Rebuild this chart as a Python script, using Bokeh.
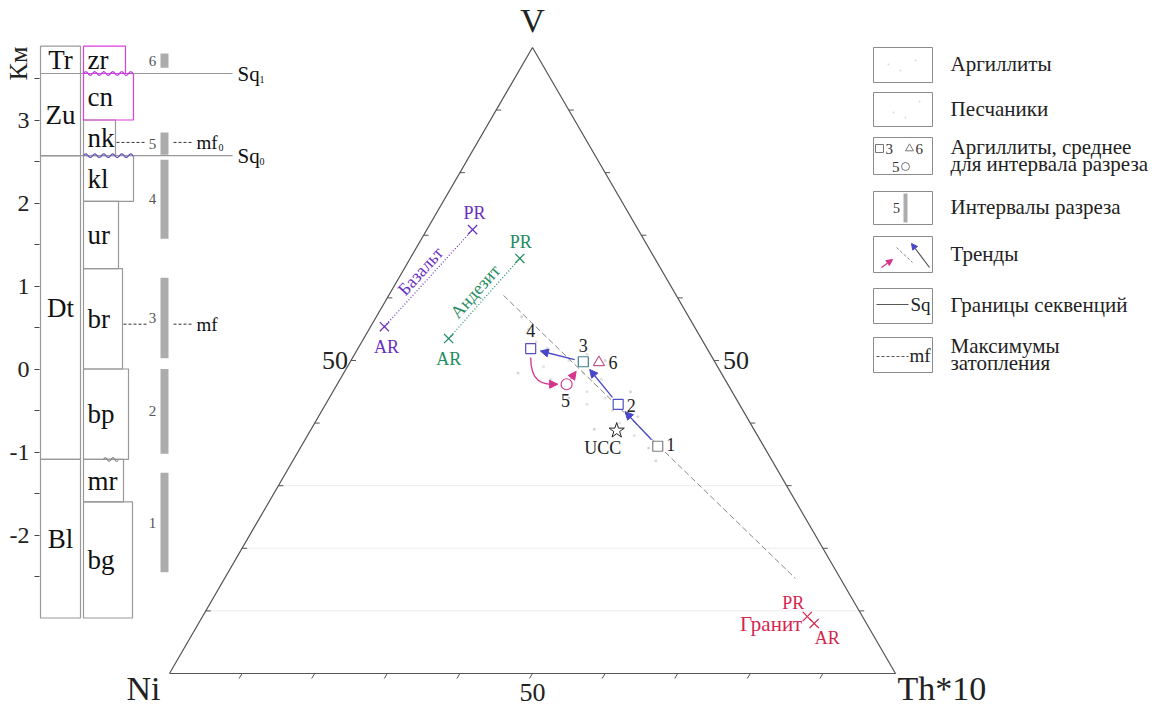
import numpy as np
from bokeh.plotting import figure
from bokeh.models import Range1d, LinearAxis, FixedTicker, Arrow, NormalHead, CustomJSTickFormatter
from bokeh.core.properties import value
from bokeh.embed import file_html
from bokeh.resources import INLINE

FONT = "Liberation Serif"
F = value(FONT)

# ---------------- ternary data: V - Ni - Th*10 (percent) ----------------
sample_ids = ["1", "2", "3", "4", "5", "6"]
sample_V = [36.3, 43.0, 49.8, 51.9, 46.2, 49.7]
sample_Th = [49.1, 40.3, 32.1, 23.8, 31.6, 34.3]
sample_Ni = [14.6, 16.7, 18.1, 24.3, 22.2, 16.0]
sample_marker = ["square", "square", "square", "square", "circle", "triangle"]
sample_color = ["#808080", "#5252c6", "#3f8090", "#5650b8", "#d23c96", "#c4578f"]

ucc_V, ucc_Th, ucc_Ni = [38.8], [42.2], [19.0]

ref_rock = ["Базальт", "Базальт", "Андезит", "Андезит", "Гранит", "Гранит"]
ref_age = ["AR", "PR", "AR", "PR", "PR", "AR"]
ref_V = [55.4, 70.9, 53.5, 66.3, 9.1, 8.0]
ref_Th = [1.9, 6.3, 11.7, 15.1, 83.3, 84.8]
ref_Ni = [42.7, 22.8, 34.8, 18.6, 7.6, 7.2]
rock_color = {"Базальт": "#6a2fbf", "Андезит": "#1f8c62", "Гранит": "#d4264f"}

mix_V = [60.4, 15.2]
mix_Th = [15.8, 78.6]
mix_Ni = [23.8, 6.2]

trend_blue = [("1", "2"), ("2", "3"), ("3", "4")]
trend_magenta = [("5", "3")]
trend_magenta_curve = [("4", "5")]

argillite_V = [52, 50, 48, 47, 45, 44, 42, 40, 49, 46, 51, 43, 38, 53, 47]
argillite_Th = [26, 30, 33, 29, 35, 38, 40, 42, 27, 31, 32, 36, 45, 24, 36]
argillite_Ni = [22, 20, 19, 24, 20, 18, 18, 18, 24, 23, 17, 21, 17, 23, 17]
sandstone_V = [55, 41, 36, 50, 44, 39, 57, 34, 48, 45]
sandstone_Th = [22, 44, 48, 35, 33, 39, 20, 50, 24, 41]
sandstone_Ni = [23, 15, 16, 15, 23, 22, 23, 16, 28, 14]

# ---------------- stratigraphic column (km) ----------------
km_ticks = [-2, -1, 0, 1, 2, 3]
km_minor = [-2.5, -1.5, -0.5, 0.5, 1.5, 2.5, 3.5]
formations = ["Tr", "Zu", "Dt", "Bl"]
formation_top = [3.89, 3.56, 2.57, -1.09]
formation_base = [3.56, 2.57, -1.09, -3.00]
members = ["zr", "cn", "nk", "kl", "ur", "br", "bp", "mr", "bg"]
member_top = [3.89, 3.56, 3.00, 2.57, 2.02, 1.21, 0.00, -1.09, -1.60]
member_base = [3.56, 3.00, 2.57, 2.02, 1.21, 0.00, -1.09, -1.60, -3.00]
intervals = ["1", "2", "3", "4", "5", "6"]
interval_top = [-1.25, 0.00, 1.10, 2.52, 2.85, 3.80]
interval_base = [-2.45, -1.02, 0.13, 1.57, 2.58, 3.63]
sequence_sub = ["1", "0"]
sequence_level = [3.56, 2.57]
flood_sub = ["0", ""]
flood_level = [2.73, 0.54]

legend_labels = [["Аргиллиты"], ["Песчаники"], ["Аргиллиты, среднее", "для интервала разреза"],
                 ["Интервалы разреза"], ["Тренды"], ["Границы секвенций"], ["Максимумы", "затопления"]]

# ---------------- layout constants ----------------
W, H = 1150, 706
SX, SY = 7.26, 7.229          # px per ternary unit
X0, Y0 = 169, 673             # pixel position of the Ni corner
KM0, KMS = 368.5, 83.0        # pixel of 0 km, px per km
member_right = [125, 133, 115, 133, 118, 122, 128, 123, 132]
member_edge = ["#e03ce0", "#e03ce0", "#999999", "#999999", "#999999", "#999999", "#999999", "#999999", "#999999"]


def tern(V, Th, Ni):
    V = np.asarray(V, float); Th = np.asarray(Th, float); Ni = np.asarray(Ni, float)
    t = V + Th + Ni
    return 100 * Th / t + 50 * V / t, 86.6025 * V / t


def shift(x, y, dx, dy):
    return np.asarray(x) + dx / SX, np.asarray(y) - dy / SY


p = figure(width=W, height=H,
           x_range=Range1d(-X0 / SX, (W - X0) / SX), y_range=Range1d((Y0 - H) / SY, Y0 / SY),
           output_backend="svg", toolbar_location=None, x_axis_location=None, y_axis_location=None,
           min_border_left=0, min_border_right=0, min_border_top=0, min_border_bottom=0)
p.extra_x_ranges = {"px": Range1d(0, W)}
p.extra_y_ranges = {"km": Range1d((KM0 - H) / KMS, KM0 / KMS), "py": Range1d(H, 0)}
p.outline_line_color = None
p.grid.visible = False
p.background_fill_color = "white"
p.border_fill_color = "white"

ax = LinearAxis(x_range_name="px", y_range_name="km", fixed_location=39,
                ticker=FixedTicker(ticks=km_ticks, minor_ticks=km_minor),
                formatter=CustomJSTickFormatter(code="return tick.toString();"))
ax.axis_line_color = None
ax.major_tick_line_color = "#444444"
ax.minor_tick_line_color = "#444444"
ax.major_tick_out = 5
ax.major_tick_in = 0
ax.minor_tick_out = 5
ax.minor_tick_in = 0
ax.major_label_standoff = 5
ax.major_label_text_font = FONT
ax.major_label_text_font_size = "24px"
ax.major_label_text_color = "#222222"
p.add_layout(ax, "left")

p.text(x=[18], y=[63], text=["Км"], angle=np.pi / 2, text_align="center", text_baseline="middle",
       text_font=F, text_font_size="26px", text_color="#222222", x_range_name="px", y_range_name="py")

# ---- column ----
KW = dict(x_range_name="px", y_range_name="km")
p.quad(left=40, right=80, top=formation_top, bottom=formation_base, fill_color=None,
       line_color="#999999", line_width=1.2, **KW)
p.text(x=60, y=[(a + b) / 2 for a, b in zip(formation_top, formation_base)], text=formations,
       text_font=F, text_font_size="27px", text_align="center", text_baseline="middle", text_color="#111", **KW)
order = [2, 3, 4, 5, 6, 7, 8, 0, 1]
for i in order:
    p.quad(left=83, right=member_right[i], top=member_top[i], bottom=member_base[i], fill_color=None,
           line_color=member_edge[i], line_width=1.2, **KW)
p.text(x=87, y=[(a + b) / 2 for a, b in zip(member_top, member_base)], text=members,
       text_font=F, text_font_size="27px", text_align="left", text_baseline="middle", text_color="#111", **KW)

wx = np.linspace(83, 133, 80)
p.line(wx, sequence_level[0] + 0.022 * np.sin(2 * np.pi * (wx - 83) / 9.0), line_color="#b040d8", line_width=1.2, **KW)
p.line(wx, sequence_level[1] + 0.022 * np.sin(2 * np.pi * (wx - 83) / 9.0), line_color="#6050c0", line_width=1.2, **KW)
wx2 = np.linspace(103, 118, 30)
p.line(wx2, member_base[6] + 0.022 * np.sin(2 * np.pi * (wx2 - 103) / 7.5), line_color="#888888", line_width=1.1, **KW)

for lev, sub in zip(sequence_level, sequence_sub):
    p.segment(x0=[40, 133], x1=[83, 232], y0=[lev, lev], y1=[lev, lev], line_color="#999999", line_width=1.2, **KW)
    p.text(x=237, y=lev, text=["Sq"], text_font=F, text_font_size="21px", text_baseline="middle",
           text_color="#111", **KW)
    p.text(x=259, y=lev - 0.07, text=[sub], text_font=F, text_font_size="10px", text_baseline="middle",
           text_color="#111", **KW)

p.quad(left=160, right=168, top=interval_top, bottom=interval_base, fill_color="#acacac", line_color=None, **KW)
p.text(x=152, y=[(a + b) / 2 for a, b in zip(interval_top, interval_base)], text=intervals,
       text_font=F, text_font_size="15px", text_align="center", text_baseline="middle", text_color="#555", **KW)

flood_start = [member_right[2], member_right[5]]
for lev, sub, xs in zip(flood_level, flood_sub, flood_start):
    p.segment(x0=[xs + 1, 173], x1=[146, 192], y0=[lev, lev], y1=[lev, lev], line_color="#333333",
              line_width=1, line_dash="3 2", **KW)
    p.text(x=196, y=lev, text=["mf"], text_font=F, text_font_size="19px", text_baseline="middle",
           text_color="#111", **KW)
    p.text(x=218, y=lev - 0.06, text=[sub], text_font=F, text_font_size="10px", text_baseline="middle",
           text_color="#111", **KW)

# ---- ternary frame ----
cx, cy = tern([0, 0, 100, 0], [0, 100, 0, 0], [100, 0, 0, 100])
for gv in [10, 20, 30]:
    gx, gy = tern([gv, gv], [0, 100 - gv], [100 - gv, 0])
    p.line(gx, gy, line_color="#ececec", line_width=1)
p.line(cx, cy, line_color="#555555", line_width=1.2)
k = np.arange(10, 100, 10)
bx, by = tern(np.zeros_like(k), k, 100 - k)
bx1, by1 = shift(bx, by, -3, 5)
lx, ly = tern(k, np.zeros_like(k), 100 - k)
lx1, ly1 = shift(lx, ly, 5, 0)
rx, ry = tern(k, 100 - k, np.zeros_like(k))
rx1, ry1 = shift(rx, ry, 5, 0)
p.segment(x0=np.r_[bx, lx, rx], y0=np.r_[by, ly, ry], x1=np.r_[bx1, lx1, rx1], y1=np.r_[by1, ly1, ry1],
          line_color="#555555", line_width=1)

mx, my = tern([0], [50], [50])
t50x, t50y = shift(mx, my, 0, 19)
p.text(x=t50x, y=t50y, text=["50"], text_font=F, text_font_size="26px", text_align="center",
       text_baseline="middle", text_color="#222")
mx, my = tern([50], [0], [50])
t50x, t50y = shift(mx, my, -3, 0)
p.text(x=t50x, y=t50y, text=["50"], text_font=F, text_font_size="26px", text_align="right",
       text_baseline="middle", text_color="#222")
mx, my = tern([50], [50], [0])
t50x, t50y = shift(mx, my, 9, 0)
p.text(x=t50x, y=t50y, text=["50"], text_font=F, text_font_size="26px", text_align="left",
       text_baseline="middle", text_color="#222")

vx, vy = shift(cx[2], cy[2], 0, -27)
p.text(x=[vx], y=[vy], text=["V"], text_font=F, text_font_size="34px", text_align="center",
       text_baseline="middle", text_color="#222")
nx, ny = shift(cx[0], cy[0], -26, 15)
p.text(x=[nx], y=[ny], text=["Ni"], text_font=F, text_font_size="34px", text_align="center",
       text_baseline="middle", text_color="#222")
tx, ty = shift(cx[1], cy[1], 2, 15)
p.text(x=[tx], y=[ty], text=["Th*10"], text_font=F, text_font_size="34px", text_align="left",
       text_baseline="middle", text_color="#222")

ax_, ay_ = tern(argillite_V, argillite_Th, argillite_Ni)
p.scatter(ax_, ay_, marker="circle", size=3, fill_color="#e2e2e2", line_color=None)
sx_, sy_ = tern(sandstone_V, sandstone_Th, sandstone_Ni)
p.scatter(sx_, sy_, marker="circle", size=3, fill_color="#d6d6d6", line_color=None)

mxl, myl = tern(mix_V, mix_Th, mix_Ni)
p.line(mxl, myl, line_color="#888888", line_width=1, line_dash="6 3")

rx_, ry_ = tern(ref_V, ref_Th, ref_Ni)
rcol = [rock_color[r] for r in ref_rock]
for a, b, c in [(0, 1, rock_color["Базальт"]), (2, 3, rock_color["Андезит"])]:
    p.line([rx_[a], rx_[b]], [ry_[a], ry_[b]], line_color=c, line_width=1.2, line_dash="1 2")
p.scatter(rx_, ry_, marker="x", size=13, line_color=rcol, line_width=1.2)
age_off = [(2, 20), (2, -17), (0, 20), (1, -16), (-14, -14), (13, 15)]
for i in range(len(ref_age)):
    lx_, ly_ = shift(rx_[i], ry_[i], *age_off[i])
    p.text(x=[lx_], y=[ly_], text=[ref_age[i]], text_font=F, text_font_size="18px", text_align="center",
           text_baseline="middle", text_color=rcol[i])
for a, b, name, off in [(0, 1, "Базальт", (-8, -7)), (2, 3, "Андезит", (-9, -7))]:
    ang = np.arctan2((ry_[b] - ry_[a]) * SY, (rx_[b] - rx_[a]) * SX)
    mx_, my_ = shift((rx_[a] + rx_[b]) / 2, (ry_[a] + ry_[b]) / 2, *off)
    p.text(x=[mx_], y=[my_], text=[name], angle=ang, text_font=F, text_font_size="18px",
           text_align="center", text_baseline="middle", text_color=rock_color[name])
gx_, gy_ = shift(rx_[4], ry_[4], -5, 7)
p.text(x=[gx_], y=[gy_], text=["Гранит"], text_font=F, text_font_size="21px", text_align="right",
       text_baseline="middle", text_color=rock_color["Гранит"])

sx, sy = tern(sample_V, sample_Th, sample_Ni)
pos = {s: (sx[i], sy[i]) for i, s in enumerate(sample_ids)}


def trimmed(a, b, s0, s1):
    ax0, ay0 = pos[a]; bx0, by0 = pos[b]
    dxp, dyp = (bx0 - ax0) * SX, (by0 - ay0) * SY
    L = np.hypot(dxp, dyp)
    ux, uy = dxp / L, dyp / L
    return (ax0 + ux * s0 / SX, ay0 + uy * s0 / SY, bx0 - ux * s1 / SX, by0 - uy * s1 / SY)


BLUE, MAG = "#4848c8", "#d6338c"
for a, b in trend_blue:
    x0, y0, x1, y1 = trimmed(a, b, 9, 10)
    p.add_layout(Arrow(end=NormalHead(size=8, fill_color=BLUE, line_color=BLUE), x_start=x0, y_start=y0,
                       x_end=x1, y_end=y1, line_color=BLUE, line_width=1.3))
for a, b in trend_magenta:
    x0, y0, x1, y1 = trimmed(a, b, 7, 12)
    p.add_layout(Arrow(end=NormalHead(size=8, fill_color=MAG, line_color=MAG), x_start=x0, y_start=y0,
                       x_end=x1, y_end=y1, line_color=MAG, line_width=1.3))
for a, b in trend_magenta_curve:
    x0, y0 = shift(*pos[a], 0, 9)
    x1, y1 = shift(*pos[b], -9, 0)
    c0x, c0y = shift(x0, y0, 0, 24)
    c1x, c1y = shift(x1, y1, -16, 1)
    p.bezier(x0=[x0], y0=[y0], x1=[x1], y1=[y1], cx0=[c0x], cy0=[c0y], cx1=[c1x], cy1=[c1y],
             line_color=MAG, line_width=1.3)
    hx, hy = shift(x1, y1, -4, 0)
    p.add_layout(Arrow(end=NormalHead(size=8, fill_color=MAG, line_color=MAG), x_start=float(hx), y_start=float(hy),
                       x_end=float(x1), y_end=float(y1), line_color=MAG, line_width=1.3))

for i in range(len(sample_ids)):
    sz = 10 if sample_marker[i] == "square" else 11
    p.scatter([sx[i]], [sy[i]], marker=sample_marker[i], size=sz, fill_color="white",
              line_color=sample_color[i], line_width=1.2)
lab_off = [(13, -2), (13, 1), (0, -16), (0, -18), (-1, 16), (14, 0)]
for i, s in enumerate(sample_ids):
    lx_, ly_ = shift(sx[i], sy[i], *lab_off[i])
    p.text(x=[lx_], y=[ly_], text=[s], text_font=F, text_font_size="18px", text_align="center",
           text_baseline="middle", text_color="#222")

ux, uy = tern(ucc_V, ucc_Th, ucc_Ni)
p.scatter(ux, uy, marker="star", size=16, fill_color="white", line_color="#222", line_width=1)
ulx, uly = shift(ux, uy, -14, 17)
p.text(x=ulx, y=uly, text=["UCC"], text_font=F, text_font_size="18px", text_align="center",
       text_baseline="middle", text_color="#222")

# ---- legend ----
LK = dict(x_range_name="px", y_range_name="py")
box_top = [47, 92, 137, 191, 236, 288, 337]
box_bot = [82, 126, 174, 224, 272, 323, 372]
p.quad(left=873, right=932, top=box_top, bottom=box_bot, fill_color=None, line_color="#8c8c8c", line_width=1, **LK)
for i, lines in enumerate(legend_labels):
    mid = (box_top[i] + box_bot[i]) / 2
    ys = [mid - 1] if len(lines) == 1 else [mid - 9, mid + 8]
    p.text(x=[950] * len(lines), y=ys, text=lines, text_font=F, text_font_size="21px",
           text_baseline="middle", text_color="#222", **LK)
p.scatter([888, 900, 915, 893, 919, 905], [64, 70, 60, 112, 101, 117], size=2, fill_color="#dadada",
          line_color=None, **LK)
p.scatter([879], [148], marker="square", size=8, fill_color="white", line_color="#777", **LK)
p.scatter([909], [148], marker="triangle", size=8, fill_color="white", line_color="#777", **LK)
p.scatter([905], [166], marker="circle", size=8, fill_color="white", line_color="#777", **LK)
p.text(x=[885, 915], y=[148, 148], text=["3", "6"], text_font=F, text_font_size="15px",
       text_align="left", text_baseline="middle", text_color="#333", **LK)
p.text(x=[899], y=[166], text=["5"], text_font=F, text_font_size="15px",
       text_align="right", text_baseline="middle", text_color="#333", **LK)
p.quad(left=903, right=907, top=193, bottom=222, fill_color="#acacac", line_color=None, **LK)
p.text(x=[896], y=[207], text=["5"], text_font=F, text_font_size="14px", text_align="center",
       text_baseline="middle", text_color="#333", **LK)
p.add_layout(Arrow(end=NormalHead(size=6, fill_color=MAG, line_color=MAG), x_start=881, y_start=267,
                   x_end=892, y_end=259, line_color=MAG, line_width=1.2, **LK))
p.line([896, 912], [247, 262], line_color="#888888", line_dash="3 2", **LK)
p.add_layout(Arrow(end=NormalHead(size=6, fill_color=BLUE, line_color=BLUE), x_start=929, y_start=267,
                   x_end=911, y_end=243, line_color="#555", line_width=1.2, **LK))
p.line([876, 908], [304, 304], line_color="#555", line_width=1, **LK)
p.text(x=[910], y=[304], text=["Sq"], text_font=F, text_font_size="19px", text_baseline="middle",
       text_color="#222", **LK)
p.line([876, 908], [356, 356], line_color="#555", line_width=1, line_dash="3 2", **LK)
p.text(x=[909], y=[355], text=["mf"], text_font=F, text_font_size="19px", text_baseline="middle",
       text_color="#222", **LK)

open("out.html", "w").write(file_html(p, INLINE))
